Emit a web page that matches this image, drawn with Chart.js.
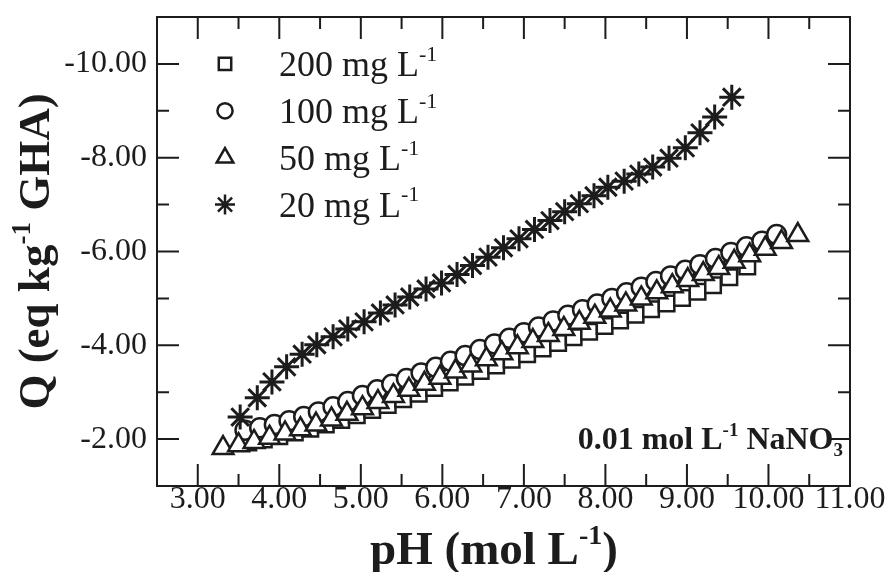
<!DOCTYPE html>
<html lang="en">
<head>
<meta charset="UTF-8">
<title>Q vs pH</title>
<script src="https://cdn.jsdelivr.net/npm/chart.js"></script>
<style>
  body { margin: 0; background: #fff; }
  canvas { display: block; }
</style>
</head>
<body>
<canvas id="chart" width="889" height="572"></canvas>
<script>
  // axis ticks
  const xTicks = [3, 4, 5, 6, 7, 8, 9, 10, 11];
  const xMinor = [3.5, 4.5, 5.5, 6.5, 7.5, 8.5, 9.5, 10.5];
  const yTicks = [-2, -4, -6, -8, -10];
  const yMinor = [-3, -5, -7, -9];

  // 200 mg/L
  const phSquare = [3.62, 3.81, 4.00, 4.19, 4.38, 4.57, 4.76, 4.95, 5.14, 5.33, 5.52, 5.71, 5.90, 6.09, 6.28, 6.47, 6.66, 6.85, 7.04, 7.23, 7.42, 7.61, 7.80, 7.99, 8.18, 8.37, 8.56, 8.75, 8.94, 9.13, 9.32, 9.52, 9.74];
  const qSquare = [-1.93, -1.99, -2.06, -2.14, -2.22, -2.31, -2.41, -2.51, -2.62, -2.73, -2.85, -2.97, -3.09, -3.21, -3.33, -3.45, -3.57, -3.69, -3.81, -3.93, -4.05, -4.17, -4.29, -4.41, -4.53, -4.65, -4.77, -4.89, -5.01, -5.14, -5.28, -5.45, -5.68];

  // 100 mg/L
  const phCircle = [3.58, 3.76, 3.94, 4.12, 4.30, 4.48, 4.66, 4.84, 5.02, 5.20, 5.38, 5.56, 5.74, 5.92, 6.10, 6.28, 6.46, 6.64, 6.82, 7.00, 7.18, 7.36, 7.54, 7.72, 7.90, 8.08, 8.26, 8.44, 8.62, 8.80, 8.98, 9.16, 9.35, 9.54, 9.73, 9.92, 10.10];
  const qCircle = [-2.19, -2.24, -2.31, -2.39, -2.48, -2.58, -2.69, -2.80, -2.93, -3.05, -3.17, -3.29, -3.41, -3.53, -3.66, -3.78, -3.91, -4.03, -4.15, -4.27, -4.39, -4.52, -4.64, -4.76, -4.88, -5.00, -5.12, -5.24, -5.36, -5.48, -5.60, -5.72, -5.85, -5.98, -6.10, -6.22, -6.36];

  // 50 mg/L
  const phTriangle = [3.31, 3.50, 3.69, 3.88, 4.07, 4.26, 4.45, 4.64, 4.83, 5.02, 5.21, 5.40, 5.59, 5.78, 5.97, 6.16, 6.35, 6.54, 6.73, 6.92, 7.11, 7.30, 7.49, 7.68, 7.87, 8.06, 8.25, 8.44, 8.63, 8.82, 9.01, 9.20, 9.39, 9.58, 9.77, 9.96, 10.16, 10.36];
  const qTriangle = [-1.81, -1.87, -1.94, -2.03, -2.12, -2.21, -2.31, -2.42, -2.54, -2.66, -2.79, -2.92, -3.05, -3.18, -3.31, -3.44, -3.57, -3.70, -3.83, -3.96, -4.09, -4.22, -4.35, -4.48, -4.61, -4.74, -4.87, -5.00, -5.13, -5.26, -5.39, -5.52, -5.65, -5.78, -5.92, -6.06, -6.20, -6.35];

  // 20 mg/L
  const phStar = [3.52, 3.73, 3.91, 4.09, 4.28, 4.46, 4.66, 4.84, 5.04, 5.24, 5.42, 5.60, 5.80, 5.99, 6.18, 6.37, 6.56, 6.75, 6.94, 7.13, 7.32, 7.50, 7.68, 7.86, 8.03, 8.23, 8.41, 8.58, 8.78, 8.98, 9.16, 9.34, 9.55];
  const qStar = [-2.47, -2.88, -3.22, -3.54, -3.81, -4.01, -4.18, -4.35, -4.50, -4.69, -4.86, -5.03, -5.20, -5.33, -5.51, -5.70, -5.88, -6.08, -6.27, -6.47, -6.66, -6.85, -7.02, -7.19, -7.37, -7.50, -7.65, -7.80, -7.99, -8.21, -8.53, -8.87, -9.29];

  const seriesLabels = ['200', '100', '50', '20'];

  const SERIF = '"Liberation Serif", "Times New Roman", serif';
  const INK = '#1c1c1c';

  function toPoints(xs, ys) {
    return xs.map((x, i) => ({ x: x, y: ys[i] }));
  }

  const markers = [
    { style: 'rect', radius: 11, width: 2.5 },
    { style: 'circle', radius: 9.5, width: 2.5 },
    { style: 'triangle', radius: 12, width: 2.5 },
    { style: 'star', radius: 12.5, width: 3 }
  ];

  function markerSet(label, xs, ys, m, order) {
    return {
      label: label,
      data: toPoints(xs, ys),
      pointStyle: m.style,
      pointRadius: m.radius,
      pointBorderWidth: m.width,
      pointBorderColor: INK,
      pointBackgroundColor: '#fff',
      order: order
    };
  }

  // text with super/subscripts: parts = [[text, 'sup'|'sub'|null], ...]
  function drawRich(ctx, parts, x, y, size, weight, align) {
    const fontOf = p => weight + ' ' + (p[1] ? Math.round(size * 0.6) : size) + 'px ' + SERIF;
    let total = 0;
    parts.forEach(p => { ctx.font = fontOf(p); total += ctx.measureText(p[0]).width; });
    let cx = align === 'center' ? x - total / 2 : align === 'right' ? x - total : x;
    ctx.textAlign = 'left';
    ctx.textBaseline = 'alphabetic';
    parts.forEach(p => {
      ctx.font = fontOf(p);
      const dy = p[1] === 'sup' ? -size * 0.42 : p[1] === 'sub' ? size * 0.22 : 0;
      ctx.fillText(p[0], cx, y + dy);
      cx += ctx.measureText(p[0]).width;
    });
  }

  const decorations = {
    id: 'decorations',
    afterDraw(chart) {
      const ctx = chart.ctx;
      const a = chart.chartArea;
      const xs = chart.scales.x, ys = chart.scales.y;
      ctx.save();
      ctx.strokeStyle = INK;
      ctx.fillStyle = INK;
      ctx.lineWidth = 2;

      // frame
      ctx.strokeRect(a.left, a.top, a.right - a.left, a.bottom - a.top);

      // inward ticks on all four sides
      const tick = (vals, len, horiz) => {
        vals.forEach(v => {
          ctx.beginPath();
          if (horiz) {
            const px = xs.getPixelForValue(v);
            ctx.moveTo(px, a.bottom); ctx.lineTo(px, a.bottom - len);
            ctx.moveTo(px, a.top); ctx.lineTo(px, a.top + len);
          } else {
            const py = ys.getPixelForValue(v);
            ctx.moveTo(a.left, py); ctx.lineTo(a.left + len, py);
            ctx.moveTo(a.right, py); ctx.lineTo(a.right - len, py);
          }
          ctx.stroke();
        });
      };
      tick(xTicks, 22, true);
      tick(xMinor, 12, true);
      tick(yTicks, 22, false);
      tick(yMinor, 12, false);

      // legend
      const rows = [-10, -9, -8, -7];
      seriesLabels.forEach((lab, i) => {
        const py = ys.getPixelForValue(rows[i]);
        const m = markers[i];
        ctx.lineWidth = 2.5;
        ctx.fillStyle = '#fff';
        Chart.helpers.drawPoint(ctx, { pointStyle: m.style, radius: m.radius * 0.8, borderWidth: 2.5, rotation: 0 }, 225, py);
        ctx.fillStyle = INK;
        drawRich(ctx, [[lab + ' mg L', null], ['-1', 'sup']], 279, py + 12, 36, 'normal', 'left');
      });

      // electrolyte note
      drawRich(ctx, [['0.01 mol L', null], ['-1', 'sup'], [' NaNO', null], ['3', 'sub']], 843, 449, 32, 'bold', 'right');

      // axis titles
      drawRich(ctx, [['pH (mol L', null], ['-1', 'sup'], [')', null]], 494, 564, 47, 'bold', 'center');
      ctx.save();
      ctx.translate(49, (a.top + a.bottom) / 2);
      ctx.rotate(-Math.PI / 2);
      drawRich(ctx, [['Q (eq kg', null], ['-1', 'sup'], [' GHA)', null]], 0, 0, 45, 'bold', 'center');
      ctx.restore();

      ctx.restore();
    }
  };

  new Chart(document.getElementById('chart'), {
    type: 'scatter',
    data: {
      datasets: [
        markerSet('200 mg L-1', phSquare, qSquare, markers[0], 2),
        markerSet('100 mg L-1', phCircle, qCircle, markers[1], 1),
        markerSet('50 mg L-1', phTriangle, qTriangle, markers[2], 0),
        markerSet('20 mg L-1', phStar, qStar, markers[3], 0)
      ]
    },
    options: {
      responsive: false,
      animation: false,
      layout: { padding: { top: 17, right: 39, left: 0, bottom: 0 } },
      plugins: {
        legend: { display: false },
        tooltip: { enabled: false }
      },
      scales: {
        x: {
          type: 'linear',
          min: 2.5,
          max: 11,
          afterBuildTicks: s => { s.ticks = xTicks.map(v => ({ value: v })); },
          afterFit: s => { s.height = 86; },
          grid: { display: false, drawTicks: false },
          border: { display: false },
          ticks: {
            color: INK,
            padding: -6,
            maxRotation: 0,
            autoSkip: false,
            font: { family: SERIF, size: 32 },
            callback: v => v.toFixed(2)
          }
        },
        y: {
          type: 'linear',
          min: -11,
          max: -1,
          reverse: true,
          afterBuildTicks: s => { s.ticks = yTicks.map(v => ({ value: v })); },
          afterFit: s => { s.width = 157; s.paddingTop = 0; s.paddingBottom = 0; },
          grid: { display: false, drawTicks: false },
          border: { display: false },
          ticks: {
            color: INK,
            padding: 10,
            autoSkip: false,
            font: { family: SERIF, size: 32 },
            callback: v => v.toFixed(2)
          }
        }
      }
    },
    plugins: [decorations]
  });
</script>
</body>
</html>
